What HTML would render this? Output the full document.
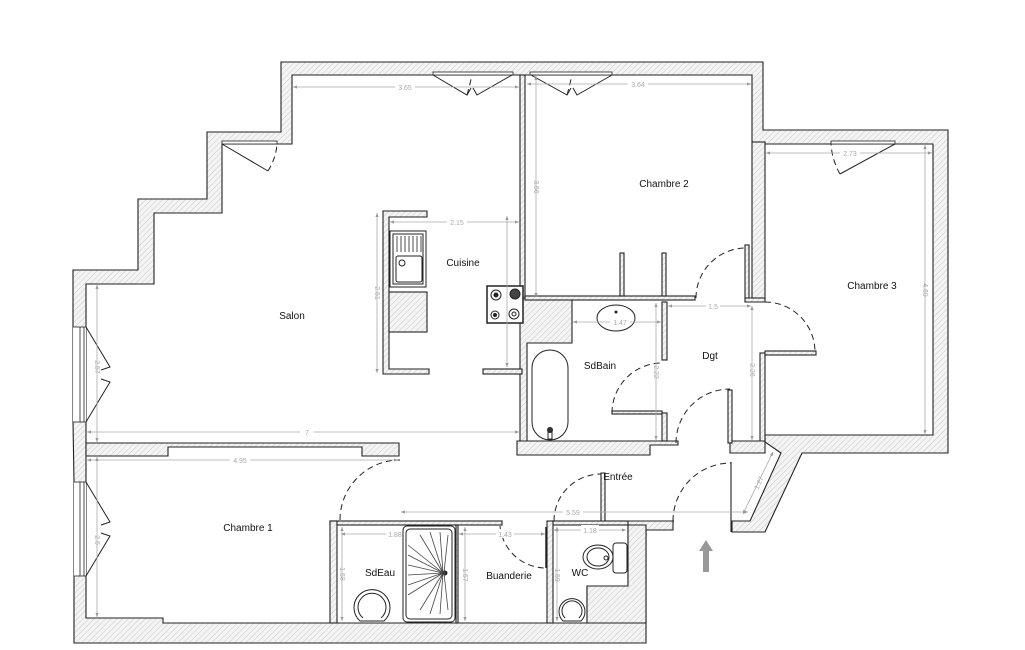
<!DOCTYPE html>
<html><head><meta charset="utf-8"><style>
html,body{margin:0;padding:0;background:#fff;}
svg{display:block;}
text{font-family:"Liberation Sans",sans-serif;}
.l{font-size:10px;fill:#111;}
.d{font-size:7px;fill:#aaa;}
</style></head><body>
<svg width="1025" height="650" viewBox="0 0 1025 650" xmlns="http://www.w3.org/2000/svg">
<defs>
<pattern id="h" width="4" height="4" patternUnits="userSpaceOnUse" patternTransform="rotate(45)">
<rect width="4" height="4" fill="#f4f4f4"/><line x1="0" y1="0" x2="0" y2="4" stroke="#c8c8c8" stroke-width="1"/>
</pattern>
<marker id="a" markerWidth="6" markerHeight="6" refX="5" refY="3" orient="auto-start-reverse"><path d="M0,1 L5,3 L0,5z" fill="#999"/></marker>
</defs>
<g stroke="#222" stroke-width="1.1" fill="url(#h)">
<polygon points="73,270 138,270 138,199 207,199 207,132 281,132 281,62 763,62 763,130 948,130 948,453 802,453 765,532 732,532 732,521 673,521 673,530 646,530 646,643 74,643 74,482 73,422"/>
</g>
<polygon points="292,75 752,75 752,142 765,142 765,144 933,144 933,435 765,435 765,442 781,453 750,521 601,521 601,525 628,525 628,586 587,586 587,623 163,623 163,618 86,618 86,284 154,284 154,213 222,213 222,144 292,144" fill="#fff" stroke="#222" stroke-width="1.1"/>
<g stroke="#222" stroke-width="1.1" fill="url(#h)">
<polygon points="86,443 399,443 399,456 362,456 362,447 168,447 168,456 86,456"/>
<rect x="520" y="75" width="5" height="223"/>
<polygon points="520,298 572,298 572,343 527,343 527,441 520,441"/>
<polygon points="517,441 678,441 678,445 650,445 650,455 517,455"/>
<rect x="662" y="302" width="5" height="58"/>
<rect x="662" y="413" width="5" height="28"/>
<rect x="525" y="296" width="170" height="4"/>
<rect x="620" y="253" width="4" height="43"/>
<rect x="662" y="253" width="4" height="43"/>
<rect x="745" y="245" width="4" height="53"/>
<polygon points="745,298 765,298 765,302 745,302"/>
<rect x="752" y="142" width="13" height="156"/>
<rect x="760" y="353" width="5" height="89"/>
<rect x="765" y="351" width="51" height="4"/>
<polygon points="730,441 765,441 765,453 730,453"/>
<rect x="728" y="390" width="4" height="53"/>
<rect x="612" y="411" width="50" height="3"/>
<rect x="330" y="521" width="172" height="4"/>
<rect x="553" y="521" width="75" height="4"/>
<rect x="330" y="521" width="7" height="102"/>
<rect x="456" y="525" width="2" height="98"/>
<rect x="547" y="521" width="6" height="102"/>
<polygon points="601,473 605,473 605,521 601,521"/>
<polygon points="628,525 646,525 646,623 587,623 587,586 628,586"/>
<polygon points="383,211 427,211 427,217 389,217 389,369 429,369 429,374 383,374"/>
<rect x="389" y="292" width="38" height="40"/>
<rect x="483" y="369" width="39" height="5"/>
</g>
<g fill="#fff" stroke="#222" stroke-width="0.8">
<rect x="222" y="141" width="55" height="3"/>
<rect x="433" y="72" width="80" height="3"/>
<rect x="530" y="72" width="82" height="3"/>
<rect x="831" y="141" width="64" height="3"/>
<rect x="73" y="327" width="13" height="95" stroke="none"/>
<line x1="80" y1="327" x2="80" y2="422"/><line x1="84" y1="327" x2="84" y2="422"/>
<rect x="74" y="482" width="12" height="94" stroke="none"/>
<line x1="80" y1="482" x2="80" y2="576"/><line x1="84" y1="482" x2="84" y2="576"/>
<line x1="73" y1="327" x2="86" y2="327"/><line x1="73" y1="422" x2="86" y2="422"/>
<line x1="74" y1="482" x2="86" y2="482"/><line x1="74" y1="576" x2="86" y2="576"/>
<rect x="674" y="519" width="57" height="14" stroke="none"/>
<rect x="503" y="519" width="43" height="8" stroke="none"/>
</g>
<line x1="673" y1="521" x2="673" y2="530" stroke="#222"/>
<line x1="731" y1="462" x2="731" y2="532" stroke="#222" stroke-width="1.1"/>
<g fill="none" stroke="#222" stroke-width="1">
<polyline points="433,75 467,95 471,88"/><polyline points="512,75 477,95 473,88"/>
<polyline points="531,75 567,95 571,88"/><polyline points="612,75 577,95 573,88"/>
<polyline points="86,327 110,367 101,370"/><polyline points="86,422 110,382 101,379"/>
<polyline points="86,482 110,522 101,525"/><polyline points="86,576 110,536 101,533"/>
<line x1="222" y1="144" x2="268" y2="171"/>
<line x1="895" y1="144" x2="840" y2="174"/>
<line x1="546" y1="527" x2="546" y2="568" stroke-width="1.5"/>
</g>
<g fill="none" stroke="#222" stroke-width="1" stroke-dasharray="6,4">
<path d="M268,171 Q276,158 277,144"/>
<path d="M840,174 Q832,160 831,144"/>
<path d="M340,520 A60,60 0 0 1 400,460"/>
<path d="M696,298 A50,50 0 0 1 746,248"/>
<path d="M765,302 A50,50 0 0 1 815,352"/>
<path d="M612,413 A50,50 0 0 1 662,363"/>
<path d="M676,443 A54,54 0 0 1 730,389"/>
<path d="M554,521 A47,47 0 0 1 601,474"/>
<path d="M673,521 A58,58 0 0 1 731,463"/>
<path d="M500,526 A46,46 0 0 0 546,568"/>
<path d="M467,95 Q470,84 472,75"/><path d="M567,95 Q570,84 572,75"/>
</g>
<g fill="none" stroke="#222" stroke-width="1">
<rect x="390" y="231" width="36" height="56" fill="#fff"/>
<rect x="393" y="234" width="30" height="50"/>
<g stroke-width="0.8"><line x1="397" y1="236" x2="397" y2="252"/><line x1="401" y1="236" x2="401" y2="252"/><line x1="405" y1="236" x2="405" y2="252"/><line x1="409" y1="236" x2="409" y2="252"/><line x1="413" y1="236" x2="413" y2="252"/><line x1="417" y1="236" x2="417" y2="252"/><line x1="421" y1="236" x2="421" y2="252"/></g>
<rect x="396" y="256" width="26" height="26" rx="2"/>
<circle cx="402" cy="263" r="3"/>
<rect x="487" y="286" width="36" height="37" fill="#fff" stroke-width="1.5"/>
<circle cx="496" cy="295" r="5"/><circle cx="496" cy="295" r="2" fill="#222"/>
<circle cx="515" cy="294" r="5" fill="#444"/>
<circle cx="495" cy="315" r="4"/><circle cx="495" cy="315" r="1.5" fill="#222"/>
<circle cx="514" cy="314" r="5"/><circle cx="514" cy="314" r="2"/>
<rect x="532" y="350" width="36" height="90" rx="18"/>
<circle cx="550" cy="430" r="2.5" fill="#333"/><rect x="548" y="432" width="4" height="7"/>
<ellipse cx="616" cy="318" rx="19" ry="13"/>
<circle cx="616" cy="312" r="1" fill="#333"/>
<rect x="403" y="526" width="52" height="96" rx="4"/>
<rect x="406" y="529" width="46" height="90" rx="4"/>
<circle cx="445" cy="573" r="2" fill="#333"/>
<path d="M360,621 A18,18 0 1 1 384,621 Z"/>
<path d="M363,618 A14,14 0 1 1 381,618"/>
<path d="M563,621 A13,13 0 1 1 581,621 Z"/>
<path d="M565,618 A10,10 0 1 1 579,618"/>
<rect x="613" y="543" width="14" height="30" rx="3"/>
<ellipse cx="598" cy="557" rx="15" ry="12"/>
<ellipse cx="598" cy="557" rx="11" ry="9"/>
<circle cx="606" cy="558" r="2"/>
</g>
<g stroke="#444" stroke-width="0.8">
<line x1="408" y1="545" x2="443" y2="573"/><line x1="408" y1="555" x2="443" y2="573"/><line x1="408" y1="565" x2="443" y2="573"/><line x1="408" y1="575" x2="443" y2="573"/><line x1="408" y1="585" x2="443" y2="573"/><line x1="408" y1="595" x2="443" y2="573"/>
<line x1="420" y1="535" x2="443" y2="573"/><line x1="430" y1="532" x2="443" y2="573"/><line x1="440" y1="532" x2="443" y2="573"/><line x1="448" y1="535" x2="444" y2="573"/>
<line x1="420" y1="610" x2="443" y2="573"/><line x1="430" y1="614" x2="443" y2="573"/><line x1="440" y1="614" x2="443" y2="573"/><line x1="448" y1="610" x2="444" y2="573"/>
</g>
<g stroke="#aaa" stroke-width="0.8" fill="none" marker-start="url(#a)" marker-end="url(#a)">
<line x1="293" y1="87" x2="519" y2="87"/>
<line x1="527" y1="84" x2="751" y2="84"/>
<line x1="766" y1="153" x2="932" y2="153"/>
<line x1="536" y1="76" x2="536" y2="297"/>
<line x1="925" y1="145" x2="925" y2="434"/>
<line x1="97" y1="285" x2="97" y2="442"/>
<line x1="87" y1="432" x2="519" y2="432"/>
<line x1="87" y1="460" x2="398" y2="460"/>
<line x1="97" y1="457" x2="97" y2="617"/>
<line x1="377" y1="213" x2="377" y2="373"/>
<line x1="390" y1="222" x2="519" y2="222"/>
<line x1="507" y1="216" x2="507" y2="367"/>
<line x1="573" y1="322" x2="661" y2="322"/>
<line x1="668" y1="306" x2="751" y2="306"/>
<line x1="656" y1="303" x2="656" y2="440"/>
<line x1="752" y1="306" x2="752" y2="440"/>
<line x1="401" y1="512" x2="748" y2="512"/>
<line x1="341" y1="534" x2="401" y2="534"/>
<line x1="459" y1="534" x2="545" y2="534"/>
<line x1="554" y1="530" x2="626" y2="530"/>
<line x1="342" y1="527" x2="342" y2="621"/>
<line x1="465" y1="527" x2="465" y2="621"/>
<line x1="557" y1="527" x2="557" y2="621"/>
<line x1="773" y1="452" x2="743" y2="514"/>
</g>
<g class="d" text-anchor="middle">
<rect x="395" y="82" width="20" height="9" fill="#fff"/><text x="405" y="90">3.65</text>
<rect x="628" y="79" width="20" height="9" fill="#fff"/><text x="638" y="87">3.64</text>
<rect x="840" y="148" width="20" height="9" fill="#fff"/><text x="850" y="156">2.73</text>
<rect x="447" y="217" width="20" height="9" fill="#fff"/><text x="457" y="225">2.15</text>
<rect x="300" y="427" width="14" height="9" fill="#fff"/><text x="307" y="435">7</text>
<rect x="230" y="455" width="20" height="9" fill="#fff"/><text x="240" y="463">4.95</text>
<rect x="610" y="317" width="20" height="9" fill="#fff"/><text x="620" y="325">1.47</text>
<rect x="706" y="301" width="14" height="9" fill="#fff"/><text x="713" y="309">1.5</text>
<rect x="563" y="507" width="20" height="9" fill="#fff"/><text x="573" y="515">5.59</text>
<rect x="386" y="529" width="16" height="9" fill="#fff"/><text x="395" y="537">1.88</text>
<rect x="496" y="529" width="18" height="9" fill="#fff"/><text x="505" y="537">1.43</text>
<rect x="581" y="525" width="18" height="9" fill="#fff"/><text x="590" y="533">1.18</text>
<text transform="translate(534,187) rotate(90)">3.56</text>
<text transform="translate(923,290) rotate(90)">4.69</text>
<text transform="translate(95,367) rotate(90)">2.57</text>
<text transform="translate(95,540) rotate(90)">2.6</text>
<text transform="translate(375,293) rotate(90)">2.61</text>
<text transform="translate(654,372) rotate(90)">2.22</text>
<text transform="translate(750,370) rotate(90)">2.26</text>
<text transform="translate(340,574) rotate(90)">1.58</text>
<text transform="translate(463,575) rotate(90)">1.57</text>
<text transform="translate(555,575) rotate(90)">1.59</text>
<text transform="translate(761,484) rotate(-65)">1.27</text>
</g>
<g class="l" text-anchor="middle">
<text x="292" y="319">Salon</text>
<text x="463" y="266">Cuisine</text>
<text x="664" y="187">Chambre 2</text>
<text x="872" y="289">Chambre 3</text>
<text x="600" y="369">SdBain</text>
<text x="710" y="359">Dgt</text>
<text x="618" y="480">Entrée</text>
<text x="248" y="531">Chambre 1</text>
<text x="380" y="576">SdEau</text>
<text x="509" y="579">Buanderie</text>
<text x="580" y="576">WC</text>
</g>
<path d="M706,540 L713,551 L709,551 L709,572 L703,572 L703,551 L699,551 Z" fill="#999"/>
</svg>
</body></html>
